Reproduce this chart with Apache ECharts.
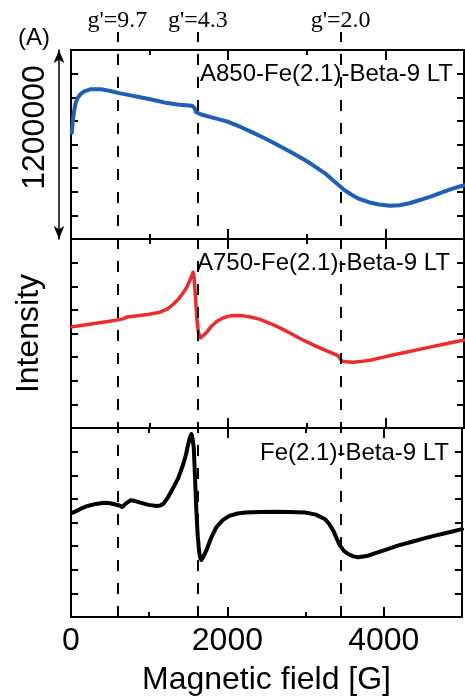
<!DOCTYPE html>
<html><head><meta charset="utf-8">
<script src="https://cdn.jsdelivr.net/npm/echarts@6/dist/echarts.min.js"></script>
<style>html,body{margin:0;padding:0;background:#fff}#c{width:465px;height:700px}</style>
</head><body><div id="c"></div>
<script>
// ---- data (magnetic field in G, intensity in 10^3 a.u. per panel) ----
const fieldA850 = [10, 25, 42, 60, 84, 120, 169, 253, 380, 500, 612, 760, 928, 1080, 1223, 1380, 1540, 1561, 1575, 1590, 1646, 1800, 1983, 2150, 2321, 2490, 2659, 2830, 2996, 3130, 3250, 3340, 3419, 3480, 3560, 3650, 3798, 3920, 4052, 4180, 4305, 4450, 4601, 4730, 4854, 5000];
const intA850   = [674, 760, 821, 865, 895, 920, 937, 951, 951, 940, 926, 912, 895, 879, 863, 853, 846, 842, 830, 806, 792, 771, 747, 713, 674, 633, 589, 543, 495, 452, 410, 370, 337, 310, 284, 258, 232, 219, 211, 214, 227, 249, 274, 298, 320, 341];
const fieldA750 = [10, 150, 295, 450, 612, 660, 717, 850, 971, 1060, 1139, 1230, 1308, 1370, 1434, 1480, 1519, 1540, 1553, 1565, 1582, 1600, 1620, 1646, 1690, 1730, 1790, 1856, 1940, 2025, 2110, 2194, 2300, 2405, 2530, 2659, 2790, 2912, 3060, 3208, 3300, 3397, 3420, 3445, 3500, 3587, 3700, 3819, 3950, 4094, 4260, 4432, 4580, 4727, 4860, 5000];
const intA750   = [642, 652, 663, 675, 688, 693, 705, 713, 720, 728, 737, 756, 789, 820, 863, 900, 947, 972, 989, 960, 842, 700, 610, 573, 590, 610, 648, 678, 700, 712, 714, 712, 703, 690, 665, 636, 602, 568, 533, 499, 480, 459, 447, 425, 420, 417, 423, 432, 447, 463, 481, 499, 515, 530, 544, 558];
const fieldFe   = [25, 120, 211, 320, 422, 500, 570, 620, 654, 700, 760, 820, 886, 990, 1097, 1140, 1181, 1240, 1308, 1370, 1434, 1470, 1498, 1520, 1540, 1555, 1570, 1585, 1603, 1620, 1637, 1652, 1667, 1690, 1730, 1790, 1856, 1940, 2025, 2130, 2236, 2420, 2616, 2800, 2996, 3130, 3250, 3300, 3355, 3400, 3439, 3490, 3545, 3610, 3672, 3780, 3883, 4030, 4178, 4350, 4516, 4640, 4770, 4890, 5000];
const intFe     = [663, 686, 705, 718, 726, 722, 714, 708, 699, 720, 741, 736, 726, 712, 705, 708, 718, 760, 821, 880, 968, 1030, 1095, 1140, 1162, 1130, 1074, 900, 674, 520, 421, 375, 362, 380, 421, 500, 568, 615, 642, 657, 663, 667, 669, 667, 663, 650, 621, 592, 547, 496, 453, 420, 400, 385, 379, 387, 404, 428, 453, 476, 499, 515, 530, 544, 558];
const panelLabels = ['A850-Fe(2.1)-Beta-9 LT', 'A750-Fe(2.1)-Beta-9 LT', 'Fe(2.1)-Beta-9 LT'];
const gFields = [590, 1615, 3430];
const gLabels = ["g'=9.7", "g'=4.3", "g'=2.0"];
const scaleBarLabel = '1200000';
const xTitle = 'Magnetic field [G]';
const yTitle = 'Intensity';

const fields = [fieldA850, fieldA750, fieldFe];
const ints = [intA850, intA750, intFe];
const colors = ['#1f5fb6', '#ec2b2d', '#000000'];
const widths = [4, 3.5, 4];

const font = '"Liberation Sans", Arial, sans-serif';
const serif = '"Liberation Serif", "Times New Roman", serif';
const L = 71, W = 393;
const panels = [{top: 50, h: 189}, {top: 239, h: 189}, {top: 428, h: 189}];
const grids = panels.map(p => ({left: L, width: W, top: p.top, height: p.h}));
grids.push({left: L, width: W, top: 32, height: 585});

const xAxes = [], yAxes = [], series = [];
const lineS = {color: '#000', width: 2};
panels.forEach((p, i) => {
  const base = {gridIndex: i, type: 'value', min: 0, max: 5000, splitLine: {show: false}};
  const xi = xAxes.length;
  xAxes.push(Object.assign({}, base, {
    position: 'bottom', interval: 1000,
    axisLine: {show: true, onZero: false, lineStyle: lineS},
    axisTick: {show: true, inside: true, length: 5, lineStyle: {width: 2, color: '#000'}},
    axisLabel: {show: i === 2, margin: 8, fontSize: 32, fontFamily: font, color: '#000',
      formatter: v => (v % 2000 === 0 ? String(v) : '')},
    name: i === 2 ? xTitle : '', nameLocation: 'middle', nameGap: 47,
    nameTextStyle: {fontSize: 32, fontFamily: font, color: '#000'}
  }));
  xAxes.push(Object.assign({}, base, {
    position: 'bottom', interval: 2000,
    axisLine: {show: false, onZero: false},
    axisTick: {show: true, inside: true, length: 10, lineStyle: {width: 2, color: '#000'}},
    axisLabel: {show: false}
  }));
  xAxes.push(Object.assign({}, base, {
    position: 'top', interval: 1000,
    axisLine: {show: true, onZero: false, lineStyle: lineS},
    axisTick: {show: true, inside: true, length: 5, lineStyle: {width: 2, color: '#000'}},
    axisLabel: {show: false}
  }));
  xAxes.push(Object.assign({}, base, {
    position: 'top', interval: 2000,
    axisLine: {show: false, onZero: false},
    axisTick: {show: true, inside: true, length: 10, lineStyle: {width: 2, color: '#000'}},
    axisLabel: {show: false}
  }));
  const yi = yAxes.length;
  const ybase = {gridIndex: i, type: 'value', min: 0, max: 1200, interval: 150, splitLine: {show: false},
    axisLine: {show: true, onZero: false, lineStyle: lineS},
    axisTick: {show: true, inside: true, length: 7, lineStyle: {width: 2, color: '#000'}},
    axisLabel: {show: false}};
  yAxes.push(Object.assign({}, ybase, {position: 'left',
    name: i === 1 ? yTitle : '', nameLocation: 'middle', nameGap: 26, nameRotate: 90,
    nameTextStyle: {fontSize: 32, fontFamily: font, color: '#000'}}));
  yAxes.push(Object.assign({}, ybase, {position: 'right'}));
  if (i === 0) {
    yAxes.push({gridIndex: 0, type: 'value', min: 0, max: 1200, position: 'left', offset: 12,
      splitLine: {show: false}, axisTick: {show: false}, axisLabel: {show: false},
      axisLine: {show: true, onZero: false, symbol: ['arrow', 'arrow'], symbolSize: [8, 13], lineStyle: {color: '#000', width: 1.5}},
      name: scaleBarLabel, nameLocation: 'middle', nameGap: 8, nameRotate: 90,
      nameTextStyle: {fontSize: 32, fontFamily: font, color: '#000', padding: [0, 0, 0, 34]}});
  }
  series.push({
    type: 'line', xAxisIndex: xi, yAxisIndex: yi, showSymbol: false, symbol: 'none',
    smooth: false, clip: true,
    lineStyle: {color: colors[i], width: widths[i], join: 'round', cap: 'round'},
    data: fields[i].map((x, k) => [x, ints[i][k]]), z: 3
  });
});
// overlay grid for the g' reference lines
const ox = xAxes.length, oy = yAxes.length;
xAxes.push({gridIndex: 3, type: 'value', min: 0, max: 5000, show: false});
yAxes.push({gridIndex: 3, type: 'value', min: 0, max: 1, show: false});
series.push({
  type: 'line', xAxisIndex: ox, yAxisIndex: oy, data: [], symbol: 'none',
  markLine: {
    silent: true, symbol: ['none', 'none'], animation: false,
    lineStyle: {color: '#000', width: 2, type: [11, 12]},
    label: {show: true, position: 'end', distance: -1, formatter: p => p.name,
      fontFamily: serif, fontSize: 24, color: '#000'},
    data: gFields.map((g, k) => ({xAxis: g, name: gLabels[k]}))
  }
});

const titles = [{text: '(A)', left: 18, top: 26}].concat(
  panelLabels.map((t, i) => ({text: t, right: [12, 15, 16][i], top: [62, 251, 441][i]})));
titles.forEach(t => { t.padding = 0; t.textStyle = {fontSize: 24, fontWeight: 'normal', fontFamily: font, color: '#000'}; });

const chart = echarts.init(document.getElementById('c'), null, {renderer: 'canvas'});
chart.setOption({
  animation: false, backgroundColor: '#fff',
  title: titles, grid: grids, xAxis: xAxes, yAxis: yAxes, series: series
});
</script></body></html>
